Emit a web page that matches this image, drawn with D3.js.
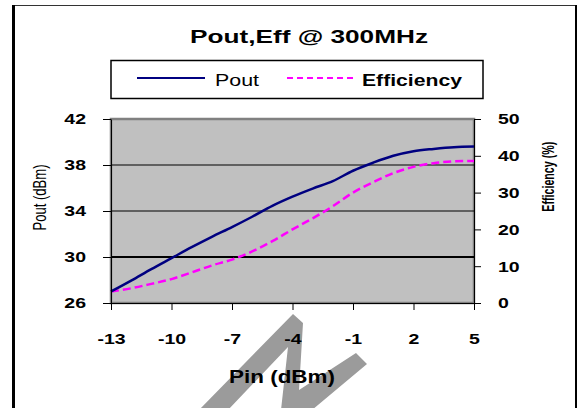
<!DOCTYPE html>
<html>
<head>
<meta charset="utf-8">
<script src="https://cdn.jsdelivr.net/npm/d3@7"></script>
<style>
  html, body { margin: 0; padding: 0; background: #ffffff; }
  svg { display: block; }
  text { font-family: "Liberation Sans", Arial, sans-serif; fill: #000; }
</style>
</head>
<body>
<svg id="chart" width="582" height="408"></svg>
<script>
// ---- data ----
const pinValues = [-13, -12, -11, -10, -9, -8, -7, -6, -5, -4, -3, -2, -1, 0, 1, 2, 3, 4, 5];
const poutValues = [27.0, 27.95, 28.95, 29.9, 30.85, 31.75, 32.6, 33.5, 34.45, 35.25, 35.95, 36.6, 37.5, 38.2, 38.8, 39.2, 39.4, 39.55, 39.6];
const effValues = [3.1, 4.0, 5.2, 6.5, 8.3, 10.2, 11.8, 14.0, 16.8, 20.0, 23.0, 26.3, 30.0, 32.8, 35.3, 37.0, 38.0, 38.5, 38.6];
const xTickValues = [-13, -10, -7, -4, -1, 2, 5];
const leftTickValues = [26, 30, 34, 38, 42];
const rightTickValues = [0, 10, 20, 30, 40, 50];
const gridValues = [30, 34, 38];
const seriesNames = ["Pout", "Efficiency"];
const titleText = "Pout,Eff @ 300MHz";
const xTitle = "Pin (dBm)";
const yLeftTitle = "Pout (dBm)";
const yRightTitle = "Efficiency (%)";

// ---- layout ----
const svg = d3.select("#chart");
const plot = { left: 111, right: 474, top: 119, bottom: 303 };
const SX = 1.3; // horizontal stretch of the original rendering

const x = d3.scaleLinear().domain([-13, 5]).range([plot.left, plot.right]);
const yL = d3.scaleLinear().domain([26, 42]).range([plot.bottom, plot.top]);
const yR = d3.scaleLinear().domain([0, 50]).range([plot.bottom, plot.top]);

// outer frame
svg.append("line").attr("x1", 12).attr("x2", 577).attr("y1", 5.5).attr("y2", 5.5)
  .attr("stroke", "#333").attr("stroke-width", 1);
svg.append("line").attr("x1", 13.5).attr("x2", 13.5).attr("y1", 5).attr("y2", 408)
  .attr("stroke", "#000").attr("stroke-width", 3);
svg.append("line").attr("x1", 576).attr("x2", 576).attr("y1", 5).attr("y2", 408)
  .attr("stroke", "#000").attr("stroke-width", 2);

// title
svg.append("text").attr("x", 190).attr("y", 43)
  .attr("font-size", 19).attr("font-weight", "bold")
  .attr("textLength", 238).attr("lengthAdjust", "spacingAndGlyphs")
  .text(titleText);

// legend
const lg = svg.append("g");
lg.append("rect").attr("x", 111).attr("y", 60.5).attr("width", 372).attr("height", 38)
  .attr("fill", "#fff").attr("stroke", "#000").attr("stroke-width", 1.5);
lg.append("line").attr("x1", 137).attr("x2", 205).attr("y1", 78).attr("y2", 78)
  .attr("stroke", "#000080").attr("stroke-width", 2);
lg.append("text").attr("x", 215).attr("y", 86).attr("font-size", 17)
  .attr("textLength", 44).attr("lengthAdjust", "spacingAndGlyphs").text(seriesNames[0]);
lg.append("line").attr("x1", 287).attr("x2", 355).attr("y1", 78).attr("y2", 78)
  .attr("stroke", "#ff00ff").attr("stroke-width", 2).attr("stroke-dasharray", "6,4");
lg.append("text").attr("x", 362).attr("y", 86).attr("font-size", 17).attr("font-weight", "bold")
  .attr("textLength", 100).attr("lengthAdjust", "spacingAndGlyphs").text(seriesNames[1]);

// plot area
svg.append("rect").attr("x", plot.left).attr("y", plot.top)
  .attr("width", plot.right - plot.left).attr("height", plot.bottom - plot.top)
  .attr("fill", "#c0c0c0").attr("stroke", "#808080").attr("stroke-width", 2.5);

// gridlines
svg.append("g").selectAll("line").data(gridValues).join("line")
  .attr("x1", plot.left).attr("x2", plot.right)
  .attr("y1", d => yL(d)).attr("y2", d => yL(d))
  .attr("stroke", "#000").attr("stroke-width", d => d === 30 ? 2 : 1);

// watermark shape (scan artefact in the reference)
svg.append("polygon")
  .attr("points", "293,314 303,323 299,390 356,353 367,364 312,410 281,410 288,347 228,410 199,410")
  .attr("fill", "#9b9b9b");

// series
const linePout = d3.line().x((d, i) => x(pinValues[i])).y(d => yL(d)).curve(d3.curveMonotoneX);
const lineEff = d3.line().x((d, i) => x(pinValues[i])).y(d => yR(d)).curve(d3.curveMonotoneX);
svg.append("path").datum(effValues).attr("d", lineEff)
  .attr("fill", "none").attr("stroke", "#ff00ff").attr("stroke-width", 2.5)
  .attr("stroke-dasharray", "8,4");
svg.append("path").datum(poutValues).attr("d", linePout)
  .attr("fill", "none").attr("stroke", "#000080").attr("stroke-width", 2.5);

// axes
function styleAxis(g) {
  g.selectAll(".domain").attr("stroke", "#000").attr("stroke-width", 1);
  g.selectAll(".tick line").attr("stroke", "#000").attr("stroke-width", 1);
  g.selectAll("text").attr("font-family", "'Liberation Sans', Arial, sans-serif")
    .attr("font-size", 15).attr("font-weight", "bold").attr("fill", "#000");
}

const gx = svg.append("g").attr("transform", `translate(0,${plot.bottom})`)
  .call(d3.axisBottom(x).tickValues(xTickValues).tickSize(7).tickSizeOuter(0).tickFormat(d => String(d)));
styleAxis(gx);
gx.selectAll(".tick text").attr("y", 0).attr("dy", 0)
  .attr("transform", `translate(0,41) scale(${SX},1)`);

const gl = svg.append("g").attr("transform", `translate(${plot.left},0)`)
  .call(d3.axisLeft(yL).tickValues(leftTickValues).tickSize(8).tickSizeOuter(0));
styleAxis(gl);
gl.selectAll(".tick text").attr("x", 0)
  .attr("transform", `translate(-25,0) scale(${SX},1)`);

const gr = svg.append("g").attr("transform", `translate(${plot.right},0)`)
  .call(d3.axisRight(yR).tickValues(rightTickValues).tickSize(7).tickSizeOuter(0));
styleAxis(gr);
gr.selectAll(".tick text").attr("x", 0)
  .attr("transform", `translate(24,0) scale(${SX},1)`);

// axis titles
svg.append("text").attr("x", 229).attr("y", 383).attr("font-size", 17.5).attr("font-weight", "bold")
  .attr("textLength", 106).attr("lengthAdjust", "spacingAndGlyphs").text(xTitle);

svg.append("text").attr("text-anchor", "middle").attr("font-size", 15)
  .attr("transform", `translate(46,197.5) scale(1.2,1) rotate(-90)`)
  .attr("textLength", 66).attr("lengthAdjust", "spacingAndGlyphs").text(yLeftTitle);

svg.append("text").attr("text-anchor", "middle").attr("font-size", 14).attr("font-weight", "bold")
  .attr("transform", `translate(554,176.7) scale(1.2,1) rotate(-90)`)
  .attr("textLength", 70).attr("lengthAdjust", "spacingAndGlyphs").text(yRightTitle);
</script>
</body>
</html>
